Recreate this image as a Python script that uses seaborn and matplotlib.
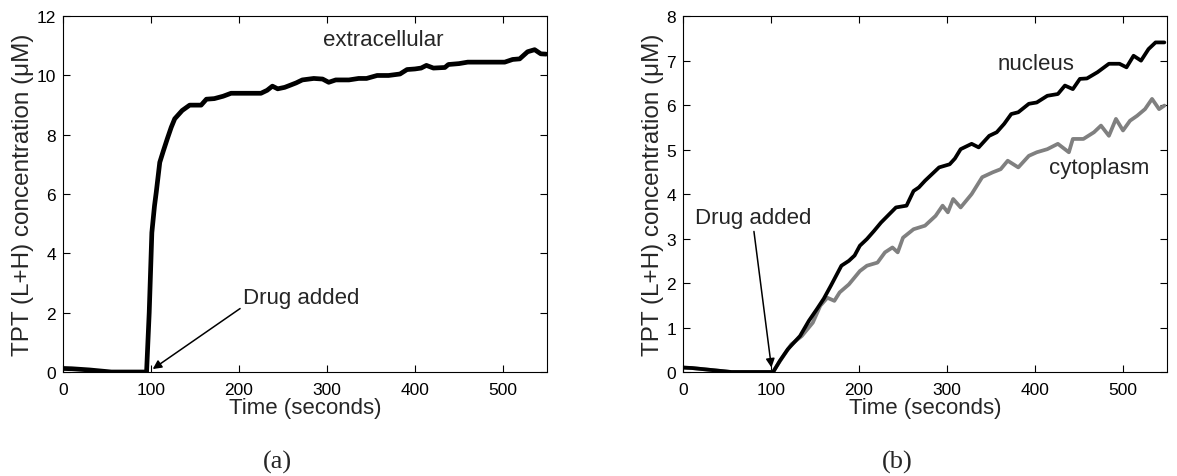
import numpy as np
import pandas as pd
import matplotlib
matplotlib.use("Agg")
import matplotlib.pyplot as plt
import seaborn as sns

# ---- data ----
ext_t = [0, 10, 30, 55, 80, 95, 98, 101, 104, 106, 110, 114, 118.5, 123, 127, 135.5, 144, 150, 157, 163,
         172, 182, 191, 205, 225, 232, 238, 244, 252, 259, 265, 272, 285, 295, 302, 310, 325, 336, 345, 357,
         370, 383, 391, 400, 407, 413, 421, 434, 438, 450, 460, 481, 502, 511, 519, 528, 536, 543, 549]
ext_c = [0.12, 0.11, 0.07, 0.0, 0.0, 0.0, 2.0, 4.7, 5.6, 6.06, 7.07, 7.45, 7.86, 8.25, 8.54, 8.82, 9.0, 9.0, 9.0, 9.2,
         9.22, 9.3, 9.4, 9.4, 9.4, 9.5, 9.64, 9.55, 9.6, 9.68, 9.75, 9.85, 9.9, 9.88, 9.77, 9.85, 9.85, 9.9, 9.9, 10.0,
         10.0, 10.05, 10.2, 10.22, 10.25, 10.34, 10.25, 10.27, 10.37, 10.4, 10.45, 10.45, 10.45, 10.54, 10.56, 10.8, 10.87, 10.73, 10.72]

nuc_t = [0, 10, 30, 55, 80, 102.5, 110, 119, 126, 133, 143, 152, 160, 168, 180, 188.5, 195, 201, 209, 217, 225,
         233, 242, 254, 262, 268, 275, 283, 291, 303, 309, 315.5, 328, 336, 348, 356.5, 365, 373, 381, 393, 402,
         414, 426, 434, 443, 451, 459, 471, 484, 496, 504, 512, 520.5, 529, 537, 547]
nuc_c = [0.1, 0.09, 0.05, 0.0, 0.0, 0.0, 0.25, 0.51, 0.66, 0.81, 1.15, 1.41, 1.65, 1.94, 2.39, 2.5, 2.62, 2.84, 2.99, 3.17, 3.36,
         3.52, 3.7, 3.74, 4.07, 4.15, 4.3, 4.45, 4.6, 4.67, 4.8, 5.01, 5.13, 5.05, 5.31, 5.39, 5.58, 5.8, 5.84, 6.03, 6.06,
         6.21, 6.25, 6.44, 6.36, 6.59, 6.6, 6.74, 6.93, 6.93, 6.85, 7.11, 7.0, 7.26, 7.41, 7.41]

cyt_t = [0, 10, 30, 55, 80, 102, 112, 123, 135, 147.5, 156, 164, 172, 178, 188.5, 201, 209, 221, 229.5, 238, 244,
         250, 262, 275, 287, 295, 301, 307, 315.5, 328, 340, 352, 361, 369, 381, 393, 402, 414, 426, 438.5, 443,
         455, 467, 475, 484, 492, 500, 508, 516, 525, 533, 541, 547]
cyt_c = [0.1, 0.09, 0.05, 0.0, 0.0, 0.0, 0.3, 0.62, 0.81, 1.11, 1.49, 1.67, 1.6, 1.79, 1.97, 2.27, 2.39, 2.46, 2.69, 2.8, 2.69,
         3.02, 3.21, 3.29, 3.51, 3.74, 3.59, 3.89, 3.7, 4.0, 4.38, 4.49, 4.56, 4.75, 4.6, 4.86, 4.94, 5.01, 5.13, 4.94, 5.24,
         5.24, 5.39, 5.54, 5.31, 5.69, 5.43, 5.65, 5.76, 5.91, 6.14, 5.91, 5.99]

x_ticks = [0, 100, 200, 300, 400, 500]
y_ticks_a = [0, 2, 4, 6, 8, 10, 12]
y_ticks_b = [0, 1, 2, 3, 4, 5, 6, 7, 8]

xlabel = "Time (seconds)"
ylabel = "TPT (L+H) concentration (\u03bcM)"

sns.set_theme(style="white")
plt.rcParams['font.family'] = ['Liberation Sans', 'DejaVu Sans']
plt.rcParams['xtick.direction'] = 'in'
plt.rcParams['ytick.direction'] = 'in'

fig = plt.figure(figsize=(11.77, 4.77), dpi=100)
axA = fig.add_axes([0.0535, 0.218, 0.4112, 0.746])
axB = fig.add_axes([0.5803, 0.218, 0.4112, 0.746])

dfA = pd.DataFrame({"t": ext_t, "c": ext_c})
dfN = pd.DataFrame({"t": nuc_t, "c": nuc_c})
dfC = pd.DataFrame({"t": cyt_t, "c": cyt_c})

sns.lineplot(data=dfA, x="t", y="c", ax=axA, color="black", linewidth=3.4, estimator=None, sort=False)
sns.lineplot(data=dfC, x="t", y="c", ax=axB, color="#808080", linewidth=2.7, estimator=None, sort=False)
sns.lineplot(data=dfN, x="t", y="c", ax=axB, color="black", linewidth=2.7, estimator=None, sort=False)

for ax, yt, ymax in [(axA, y_ticks_a, 12), (axB, y_ticks_b, 8)]:
    ax.set_xlim(0, 550)
    ax.set_ylim(0, ymax)
    ax.set_xticks(x_ticks)
    ax.set_yticks(yt)
    ax.tick_params(axis='both', which='both', direction='in', length=5, width=0.8,
                   top=True, right=True, bottom=True, left=True, labelsize=12.5, colors='black')
    ax.tick_params(axis='x', pad=7)
    ax.tick_params(axis='y', pad=5)
    for s in ax.spines.values():
        s.set_visible(True)
        s.set_color('black')
        s.set_linewidth(0.8)
    ax.set_xlabel(xlabel, fontsize=16, labelpad=0.5)
    ax.set_ylabel(ylabel, fontsize=17.5, labelpad=2)

axA.text(295, 11.2, "extracellular", fontsize=16, va="center", ha="left")
axA.annotate("Drug added", xy=(102, 0.1), xytext=(205, 2.5), fontsize=16, va="center", ha="left",
             arrowprops=dict(arrowstyle="-|>", color="black", lw=1.1, shrinkA=0, shrinkB=0,
                             mutation_scale=13, relpos=(0, 0.1)))

axB.text(358, 6.93, "nucleus", fontsize=16, va="center", ha="left")
axB.text(416, 4.6, "cytoplasm", fontsize=16, va="center", ha="left")
axB.annotate("Drug added", xy=(100.5, 0.1), xytext=(14, 3.47), fontsize=16, va="center", ha="left",
             arrowprops=dict(arrowstyle="-|>", color="black", lw=1.1, shrinkA=0, shrinkB=0,
                             mutation_scale=13, relpos=(0.5, 0)))

fig.text(277 / 1177, 1 - 462 / 477, "(a)", fontsize=19, family=['Liberation Serif', 'DejaVu Serif'],
         ha="center", va="center")
fig.text(897 / 1177, 1 - 462 / 477, "(b)", fontsize=19, family=['Liberation Serif', 'DejaVu Serif'],
         ha="center", va="center")

fig.savefig("out.png", dpi=100)
